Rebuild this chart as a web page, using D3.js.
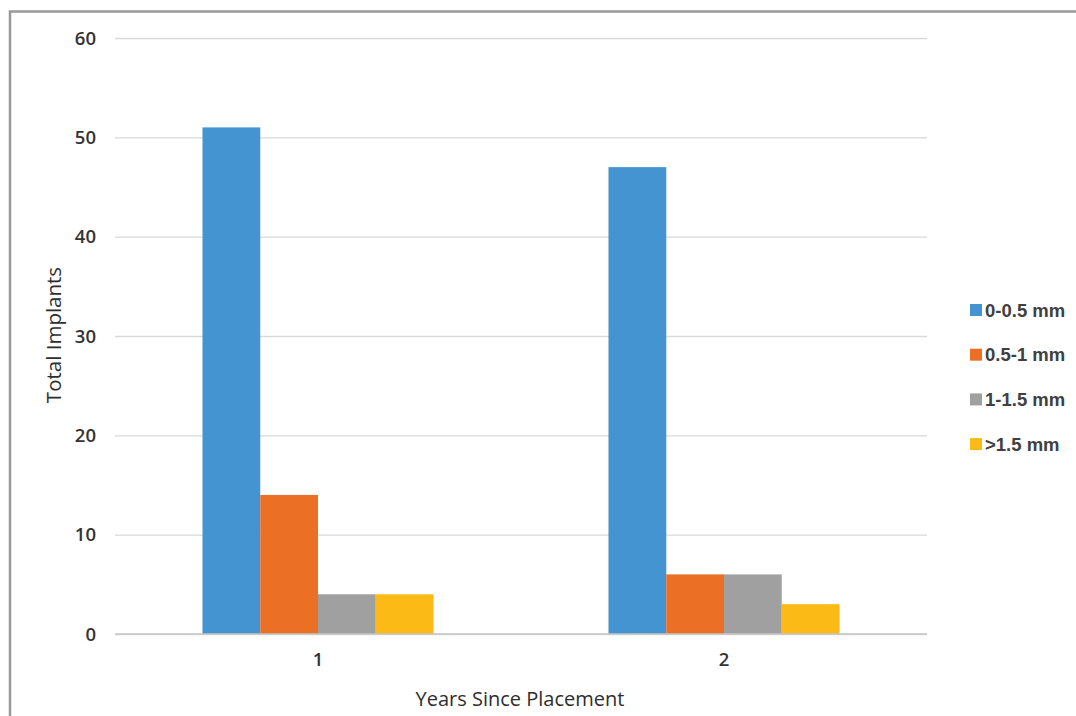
<!DOCTYPE html>
<html>
<head>
<meta charset="utf-8">
<script src="https://cdn.jsdelivr.net/npm/d3@7"></script>
<style>
  html, body { margin: 0; padding: 0; background: #fff; }
  svg { display: block; }
</style>
</head>
<body>
<svg id="chart" width="1076" height="716"></svg>
<script>
// Implant counts by bone-loss band, per year since placement
const categories = ["1", "2"];
const seriesNames = ["0-0.5 mm", "0.5-1 mm", "1-1.5 mm", ">1.5 mm"];
const seriesColors = ["#4394d1", "#eb6f25", "#a0a0a0", "#fbba16"];
const values = [
  [51, 14, 4, 4],
  [47, 6, 6, 3]
];
const yTicks = [0, 10, 20, 30, 40, 50, 60];

const svg = d3.select("#chart");
const W = 1076, H = 716;

// outer frame
svg.append("rect").attr("x", 10).attr("y", 11.5).attr("width", W + 20).attr("height", H + 20)
  .attr("fill", "#fff").attr("stroke", "#999").attr("stroke-width", 2.5);

const plot = { left: 115, right: 927, top: 38, bottom: 634 };

const y = d3.scaleLinear().domain([0, 60]).range([plot.bottom, plot.top]);
const x0 = d3.scaleBand().domain(categories).range([plot.left, plot.right]).paddingInner(0.431).paddingOuter(0.2155);
const x1 = d3.scaleBand().domain(seriesNames).range([0, x0.bandwidth()]);

const labelFont = "'Open Sans', sans-serif";

// gridlines and value labels
const yAxis = d3.axisLeft(y).tickValues(yTicks).tickSize(-(plot.right - plot.left)).tickPadding(19);
const gy = svg.append("g").attr("transform", `translate(${plot.left},0)`).call(yAxis);
gy.select(".domain").remove();
gy.selectAll(".tick line").attr("stroke", "#d9d9d9").attr("stroke-width", 1.3);
gy.selectAll(".tick text").attr("fill", "#333").attr("font-family", labelFont)
  .attr("font-size", 18.5).attr("font-weight", 600).attr("dy", "0.33em");

// bars
const groups = svg.append("g").selectAll("g").data(values).join("g")
  .attr("transform", (d, i) => `translate(${x0(categories[i])},0)`);
groups.selectAll("rect").data(d => d.map((v, j) => ({ v, name: seriesNames[j], color: seriesColors[j] })))
  .join("rect")
  .attr("x", d => x1(d.name))
  .attr("y", d => y(d.v))
  .attr("width", x1.bandwidth())
  .attr("height", d => y(0) - y(d.v))
  .attr("fill", d => d.color);

// category axis
const xAxis = d3.axisBottom(x0).tickSize(0).tickPadding(19);
const gx = svg.append("g").attr("transform", `translate(0,${plot.bottom})`).call(xAxis);
gx.select(".domain").attr("stroke", "#c4c4c4").attr("stroke-width", 1.6)
  .attr("d", `M${plot.left},0H${plot.right}`);
gx.selectAll(".tick text").attr("fill", "#333").attr("font-family", labelFont)
  .attr("font-size", 18.5).attr("font-weight", 600).attr("dy", "0.71em");

// axis titles
svg.append("text").attr("x", 520).attr("y", 706).attr("text-anchor", "middle")
  .attr("fill", "#2e2e2e").attr("font-family", labelFont).attr("font-size", 20)
  .text("Years Since Placement");
svg.append("text").attr("transform", "translate(61,335) rotate(-90)").attr("text-anchor", "middle")
  .attr("fill", "#2e2e2e").attr("font-family", labelFont).attr("font-size", 20.5)
  .text("Total Implants");

// legend
const legend = svg.append("g").selectAll("g").data(seriesNames).join("g")
  .attr("transform", (d, i) => `translate(970,${310 + i * 44.7})`);
legend.append("rect").attr("x", 0).attr("y", -6).attr("width", 12).attr("height", 12)
  .attr("fill", (d, i) => seriesColors[i]);
legend.append("text").attr("x", 15).attr("y", 0).attr("dy", "0.36em")
  .attr("fill", "#404040").attr("font-family", "'Liberation Sans', Arial, sans-serif")
  .attr("font-weight", "bold").attr("font-size", 18.5)
  .text(d => d);
</script>
</body>
</html>
